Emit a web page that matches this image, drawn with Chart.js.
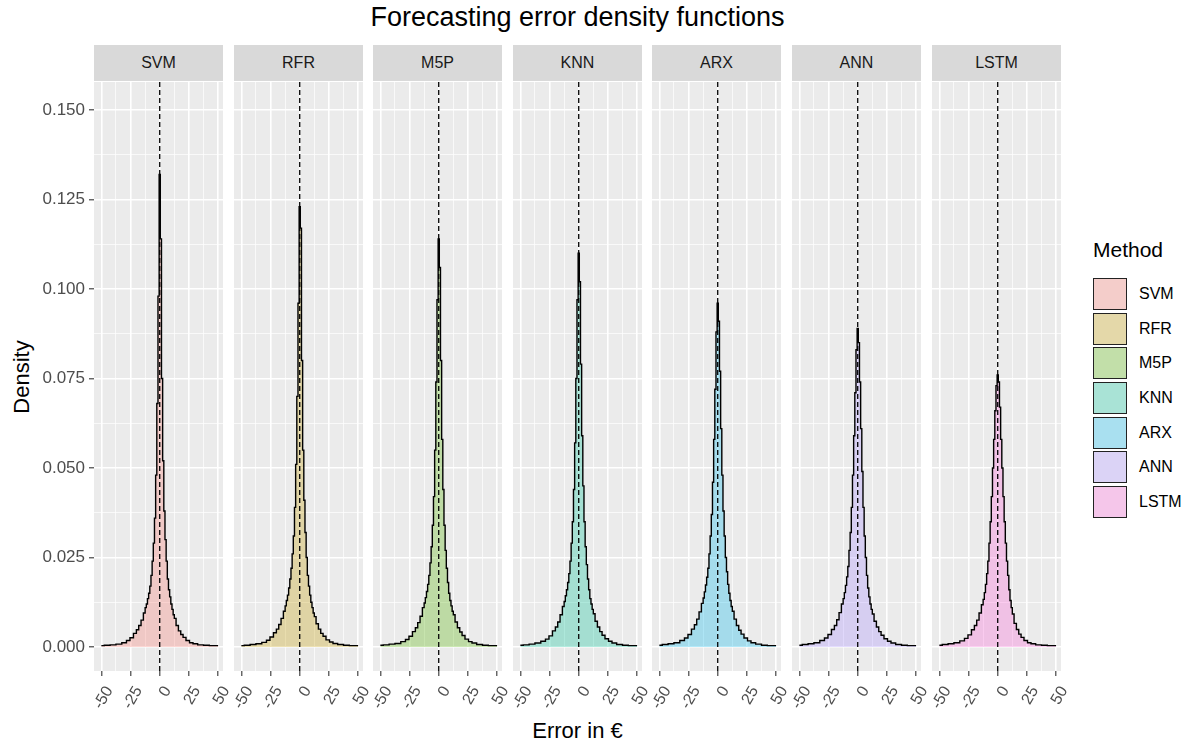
<!DOCTYPE html>
<html><head><meta charset="utf-8">
<script src="https://cdn.jsdelivr.net/npm/chart.js@4.4.1/dist/chart.umd.min.js"></script>
<style>
body{margin:0;width:1194px;height:742px;background:#fff;position:relative;overflow:hidden;font-family:"Liberation Sans",Arial,sans-serif;}
.box{position:absolute;}
.strip{position:absolute;top:45px;height:36px;background:#D9D9D9;color:#1A1A1A;font-size:16px;display:flex;align-items:center;justify-content:center;}
#title{position:absolute;left:94px;width:967px;top:2px;text-align:center;font-size:27px;color:#000;}
#xtitle{position:absolute;left:94px;width:967px;top:718px;text-align:center;font-size:22px;color:#000;}
#ytitle{position:absolute;left:22px;top:377px;transform:translate(-50%,-50%) rotate(-90deg);font-size:22px;color:#000;white-space:nowrap;}
#legend{position:absolute;left:1093px;top:238px;}
#legend .lt{font-size:21px;color:#000;margin-bottom:15px;}
#legend .row{display:flex;align-items:center;height:34.6px;}
#legend .key{width:34px;height:32px;background:#F2F2F2;position:relative;}
#legend .key div{position:absolute;left:0;top:0;right:0;bottom:0;border:1.5px solid #222;box-sizing:border-box;}
#legend .lab{font-size:16px;color:#000;margin-left:12px;}
</style></head><body>
<div id="title">Forecasting error density functions</div>
<div id="xtitle">Error in €</div>
<div id="ytitle">Density</div>
<div id="legend"></div>
<script>
// ---- data ----
const methods = ['SVM','RFR','M5P','KNN','ARX','ANN','LSTM'];
const errorBins = [-50,-45,-40,-35,-30,-27,-24,-21,-19,-17,-15,-13,-12,-11,-10,-9,-8,-7,-6,-5,-4,-3,-2,-1,0,1,2,3,4,5,6,7,8,9,10,11,12,13,15,17,19,21,24,27,30,35,40,45,50];
const densitySVM = [0.0004,0.0005,0.0006,0.0008,0.0012,0.0018,0.0026,0.0038,0.0048,0.006,0.0075,0.0095,0.011,0.012,0.0135,0.015,0.017,0.020,0.024,0.029,0.036,0.048,0.068,0.098,0.132,0.114,0.075,0.052,0.038,0.030,0.024,0.019,0.016,0.014,0.012,0.0105,0.009,0.008,0.006,0.0045,0.0035,0.0027,0.0018,0.0012,0.0009,0.0006,0.0005,0.0004,0.0004];
const densityRFR = [0.0004,0.0005,0.0007,0.0009,0.0013,0.0019,0.0028,0.004,0.005,0.0063,0.008,0.010,0.0115,0.013,0.0145,0.0165,0.019,0.022,0.026,0.031,0.039,0.051,0.070,0.096,0.123,0.117,0.080,0.055,0.041,0.032,0.025,0.020,0.017,0.0145,0.0125,0.011,0.0095,0.0085,0.0065,0.005,0.0038,0.003,0.002,0.0014,0.001,0.0007,0.0005,0.0004,0.0004];
const densityM5P = [0.0005,0.0006,0.0008,0.001,0.0015,0.0021,0.003,0.0043,0.0054,0.0068,0.0086,0.011,0.0123,0.0138,0.0155,0.0175,0.020,0.0235,0.028,0.034,0.042,0.055,0.074,0.097,0.114,0.106,0.080,0.058,0.044,0.034,0.027,0.022,0.018,0.015,0.013,0.0115,0.010,0.009,0.007,0.0054,0.0042,0.0032,0.0022,0.0015,0.0011,0.0007,0.0005,0.0004,0.0004];
const densityKNN = [0.0005,0.0006,0.0008,0.0011,0.0016,0.0022,0.0031,0.0045,0.0056,0.007,0.009,0.0113,0.0127,0.0143,0.016,0.018,0.0205,0.024,0.029,0.035,0.044,0.057,0.075,0.097,0.110,0.102,0.079,0.059,0.045,0.035,0.028,0.023,0.019,0.016,0.0135,0.012,0.0105,0.0093,0.0072,0.0056,0.0043,0.0033,0.0023,0.0016,0.0011,0.0007,0.0005,0.0004,0.0004];
const densityARX = [0.0005,0.0007,0.0009,0.0012,0.0018,0.0025,0.0035,0.005,0.0062,0.0078,0.0098,0.0122,0.0137,0.0154,0.0173,0.0195,0.022,0.026,0.031,0.037,0.046,0.058,0.072,0.088,0.096,0.091,0.077,0.061,0.048,0.038,0.031,0.025,0.021,0.0175,0.015,0.013,0.0113,0.010,0.0078,0.006,0.0047,0.0036,0.0025,0.0017,0.0012,0.0008,0.0005,0.0004,0.0004];
const densityANN = [0.0005,0.0007,0.0009,0.0012,0.0018,0.0025,0.0035,0.0049,0.006,0.0076,0.0096,0.012,0.0135,0.0152,0.0172,0.0196,0.0225,0.027,0.032,0.039,0.048,0.059,0.071,0.083,0.089,0.085,0.074,0.061,0.049,0.039,0.031,0.025,0.020,0.0165,0.014,0.012,0.0105,0.0092,0.0072,0.0056,0.0043,0.0033,0.0023,0.0016,0.0011,0.0007,0.0005,0.0004,0.0004];
const densityLSTM = [0.0005,0.0007,0.0009,0.0012,0.0017,0.0024,0.0034,0.0048,0.006,0.0075,0.0095,0.0118,0.0133,0.0152,0.0175,0.0205,0.024,0.029,0.035,0.042,0.050,0.058,0.066,0.073,0.076,0.074,0.067,0.058,0.050,0.042,0.035,0.029,0.024,0.020,0.016,0.013,0.011,0.0092,0.0066,0.0049,0.0036,0.0027,0.0018,0.0012,0.0009,0.0006,0.0005,0.0004,0.0004];
const densities = [densitySVM,densityRFR,densityM5P,densityKNN,densityARX,densityANN,densityLSTM];
const fillColors = ['rgba(248,118,109,0.3)','rgba(196,154,0,0.3)','rgba(83,180,0,0.3)','rgba(0,192,148,0.3)','rgba(0,182,235,0.3)','rgba(165,138,255,0.3)','rgba(251,97,215,0.3)'];
const xMajorTicks = [-50,-25,0,25,50];
const xTickLabels = ['-50','-25','0','25','50'];
const xMinorTicks = [-37.5,-12.5,12.5,37.5];
const yMajorTicks = [0,0.025,0.05,0.075,0.1,0.125,0.15];
const yTickLabels = ['0.000','0.025','0.050','0.075','0.100','0.125','0.150'];
const yMinorTicks = [0.0125,0.0375,0.0625,0.0875,0.1125,0.1375];
const xLimits = [-56.3,54.2];
const yLimits = [-0.0067,0.1578];
const zeroErrorLine = 0;

// ---- layout ----
const panelLefts = [94,234,373,513,652,792,932];
const panelW = 129, panelTop = 82, panelBottom = 671, canvasH = 742-82;
const padSide = 14;

const bgPlugin = {
  id:'panelBg',
  beforeDraw(chart){
    const a = chart.chartArea, c = chart.ctx;
    c.save(); c.fillStyle = '#EBEBEB'; c.fillRect(a.left,a.top,a.right-a.left,a.bottom-a.top); c.restore();
  }
};

function isMajor(list,v){ return list.some(t=>Math.abs(t-v)<1e-9); }

methods.forEach((m,i)=>{
  const strip = document.createElement('div');
  strip.className='strip'; strip.style.left=panelLefts[i]+'px'; strip.style.width=panelW+'px'; strip.textContent=m;
  document.body.appendChild(strip);

  const first = i===0;
  const boxLeft = first ? 0 : panelLefts[i]-padSide;
  const boxW = first ? panelLefts[i]+panelW+padSide : panelW+2*padSide;
  const box = document.createElement('div');
  box.className='box'; box.style.left=boxLeft+'px'; box.style.top=panelTop+'px';
  box.style.width=boxW+'px'; box.style.height=canvasH+'px';
  const cv = document.createElement('canvas'); box.appendChild(cv); document.body.appendChild(box);

  new Chart(cv,{
    type:'line',
    data:{datasets:[
      {data:[{x:zeroErrorLine,y:yLimits[0]},{x:zeroErrorLine,y:yLimits[1]}],borderColor:'#000',borderWidth:1.3,borderDash:[5,3],pointRadius:0,fill:false},
      {data:errorBins.map((x,k)=>({x:x,y:densities[i][k]})),stepped:'middle',fill:'origin',backgroundColor:fillColors[i],borderColor:'#000',borderWidth:1.4,pointRadius:0}
    ]},
    options:{
      responsive:true,maintainAspectRatio:false,animation:false,
      layout:{padding:{left:first?0:padSide,right:padSide,top:0,bottom:0}},
      plugins:{legend:{display:false},tooltip:{enabled:false}},
      scales:{
        x:{type:'linear',min:xLimits[0],max:xLimits[1],
          afterBuildTicks(s){ s.ticks=[...xMajorTicks,...xMinorTicks].sort((a,b)=>a-b).map(v=>({value:v})); },
          afterFit(s){ s.height=canvasH-(panelBottom-panelTop); s.paddingLeft=0; s.paddingRight=0; },
          border:{display:false},
          grid:{color:'#FFFFFF',lineWidth:c=>isMajor(xMajorTicks,c.tick.value)?1.6:0.7,
                tickColor:c=>isMajor(xMajorTicks,c.tick.value)?'#333333':'rgba(0,0,0,0)',tickLength:5,tickWidth:1.1},
          ticks:{autoSkip:false,minRotation:60,maxRotation:60,labelOffset:8,padding:7,color:'#4D4D4D',
            font:{family:'"Liberation Sans", Arial, sans-serif',size:16},
            callback:(v)=>{const k=xMajorTicks.findIndex(t=>Math.abs(t-v)<1e-9);return k>=0?xTickLabels[k]:'';}}
        },
        y:{type:'linear',min:yLimits[0],max:yLimits[1],
          afterBuildTicks(s){ s.ticks=[...yMajorTicks,...yMinorTicks].sort((a,b)=>a-b).map(v=>({value:v})); },
          afterFit(s){ s.width=first?panelLefts[0]:0; s.paddingTop=0; s.paddingBottom=0; },
          border:{display:false},
          grid:{color:'#FFFFFF',lineWidth:c=>isMajor(yMajorTicks,c.tick.value)?1.6:0.7,drawTicks:first,
                tickColor:c=>isMajor(yMajorTicks,c.tick.value)?'#333333':'rgba(0,0,0,0)',tickLength:5,tickWidth:1.1},
          ticks:{display:first,autoSkip:false,padding:4,color:'#4D4D4D',
            font:{family:'"Liberation Sans", Arial, sans-serif',size:17},
            callback:(v)=>{const k=yMajorTicks.findIndex(t=>Math.abs(t-v)<1e-9);return k>=0?yTickLabels[k]:'';}}
        }
      }
    },
    plugins:[bgPlugin]
  });
});

// legend
const lg = document.getElementById('legend');
lg.innerHTML = '<div class="lt">Method</div>' + methods.map((m,i)=>
  `<div class="row"><div class="key"><div style="background:${fillColors[i]}"></div></div><div class="lab">${m}</div></div>`).join('');
</script>
</body></html>
